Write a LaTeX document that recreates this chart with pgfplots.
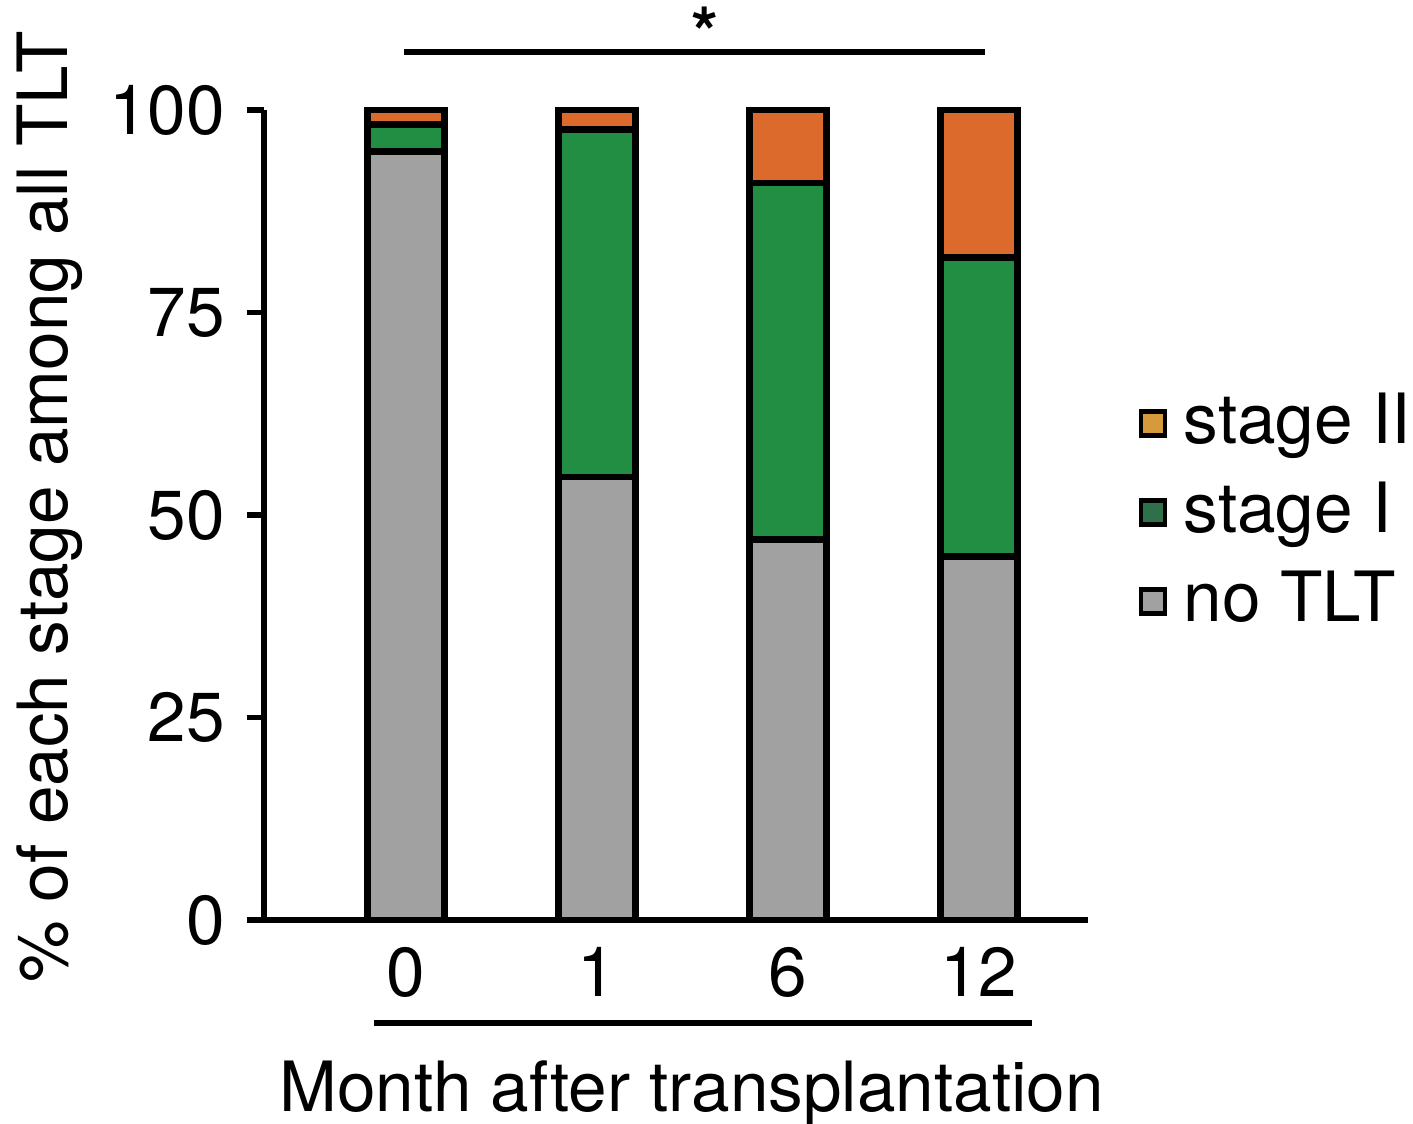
\documentclass[border=0pt]{standalone}
\usepackage{fontspec}
\setmainfont{TeX Gyre Heros}
\usepackage{pgfplots}
\pgfplotsset{compat=1.18}
\definecolor{barorange}{HTML}{DC6A2C}
\definecolor{bargreen}{HTML}{228E44}
\definecolor{bargrey}{HTML}{A0A1A0}
\definecolor{legorange}{HTML}{D49A3C}
\definecolor{leggreen}{HTML}{2E704A}
\begin{document}
\fontsize{20.8}{25}\selectfont
\begin{tikzpicture}
\useasboundingbox (0,0) rectangle (423.9pt,337.2pt);
\begin{axis}[
  at={(79.2pt,61.2pt)}, anchor=south west,
  scale only axis, width=247.2pt, height=243pt,
  xmin=-0.743, xmax=3.571, ymin=0, ymax=100,
  clip=false,
  axis x line=bottom, axis y line=left,
  axis line style={-, line width=1.6pt},
  x axis line style={shorten <=-3.6pt},
  ybar stacked, bar width=23.1pt,
  xtick={0,1,2,3}, xticklabels={0,1,6,12},
  ytick={0,25,50,75,100}, yticklabels={0,25,50,75,100},
  /pgf/number format/assume math mode=true,
  tick align=outside,
  major tick length=5.1pt,
  every tick/.style={line width=1.6pt, black},
  x tick style={draw=none},
  xticklabel style={inner sep=0pt, yshift=-2.8pt},
  yticklabel style={inner sep=0pt, anchor=east, xshift=-6.4pt},
  xlabel={Month after transplantation},
  xlabel style={at={(axis description cs:0.519,-0.237)}, anchor=base},
  ylabel={\% of each stage among all TLT},
  ylabel style={at={(axis description cs:-0.239,0.510)}, anchor=base},
  legend image code/.code={\draw[#1, line width=1.4pt] (0pt,-3.6pt) rectangle (7.2pt,3.6pt); \path[draw=none, fill=none] (0pt,0pt) rectangle (10.8pt,0.1pt);},
  legend style={draw=none, fill=none, at={(1.0607,0.503)}, anchor=west,
    inner sep=0pt, row sep=4.4pt, nodes={inner sep=2pt}},
  legend cell align=left,
]
\addplot[fill=bargrey, draw=black, line width=2pt, forget plot] coordinates {(0,94.9) (1,54.7) (2,47.0) (3,44.9)};
\addplot[fill=bargreen, draw=black, line width=2pt, forget plot] coordinates {(0,3.3) (1,42.9) (2,44.0) (3,36.9)};
\addplot[fill=barorange, draw=black, line width=2pt, forget plot] coordinates {(0,1.8) (1,2.4) (2,9.0) (3,18.2)};
\addlegendimage{fill=legorange, draw=black}
\addlegendentry{stage II}
\addlegendimage{fill=leggreen, draw=black}
\addlegendentry{stage I}
\addlegendimage{fill=bargrey, draw=black}
\addlegendentry{no TLT}
\draw[line width=1.8pt] (axis cs:-0.01,107.2) -- (axis cs:3.03,107.2);
\node[anchor=base, font=\fontsize{20.8}{25}\selectfont\bfseries, inner sep=0pt] at (axis cs:1.565,106.5) {*};
\draw[line width=1.8pt] (axis cs:-0.168,-12.7) -- (axis cs:3.277,-12.7);
\end{axis}
\end{tikzpicture}
\end{document}
